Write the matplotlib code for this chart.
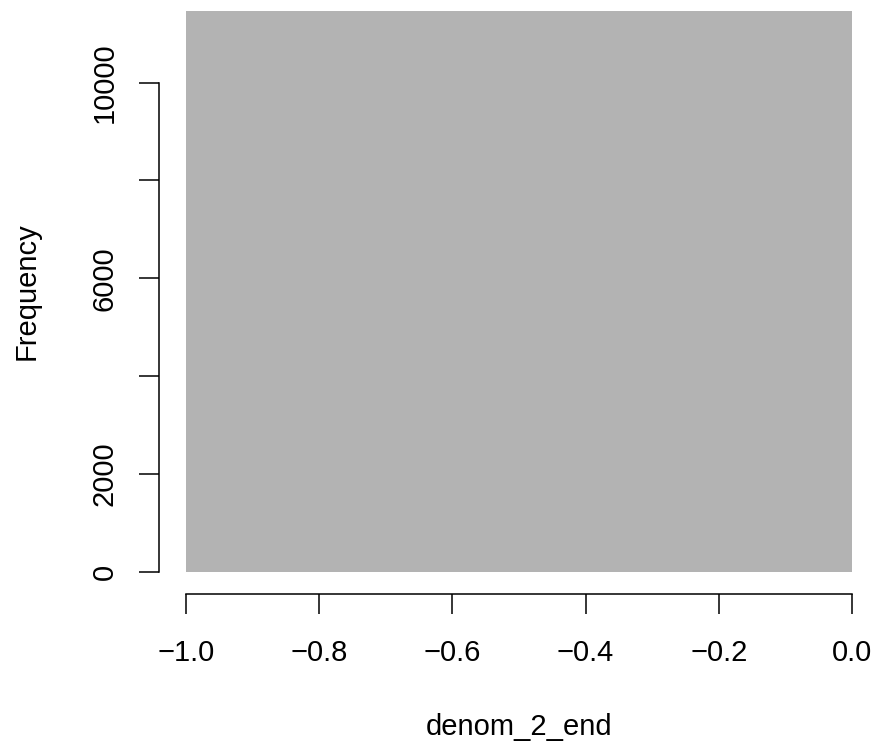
import matplotlib
matplotlib.use("Agg")
import matplotlib.pyplot as plt

# Histogram of denom_2_end: a single bin from -1 to 0
bin_edges = [-1.0, 0.0]
counts = [11470]

x_ticks = [-1.0, -0.8, -0.6, -0.4, -0.2, 0.0]
x_tick_labels = ["\u22121.0", "\u22120.8", "\u22120.6", "\u22120.4", "\u22120.2", "0.0"]
y_ticks = [0, 2000, 4000, 6000, 8000, 10000]
y_tick_labels = ["0", "2000", "", "6000", "", "10000"]

plt.rcParams["font.family"] = ["Liberation Sans", "DejaVu Sans"]
fs = 21

fig = plt.figure(figsize=(8.79, 7.47), dpi=100)
ax = fig.add_axes([0.1813, 0.2047, 0.8183, 0.811])

ax.stairs(counts, bin_edges, fill=True, color="#B3B3B3", linewidth=0)

# R-style axis ranges: 4% padding on each side
top = max(counts)
ax.set_xlim(-1.04, 0.04)
ax.set_ylim(-0.04 * top, 1.04 * top)

for side in ["top", "right"]:
    ax.spines[side].set_visible(False)
ax.spines["left"].set_bounds(0, 10000)
ax.spines["bottom"].set_bounds(-1.0, 0.0)
for side in ["left", "bottom"]:
    ax.spines[side].set_linewidth(1.1)

ax.set_xticks(x_ticks)
ax.set_xticklabels(x_tick_labels, fontsize=fs)
ax.set_yticks(y_ticks)
ax.set_yticklabels(y_tick_labels, fontsize=fs, rotation=90, va="center")
ax.tick_params(axis="both", length=14.4, width=1.1, direction="out")
ax.tick_params(axis="x", pad=18)
ax.tick_params(axis="y", pad=15)

fig.text(519 / 879, 1 - 727 / 747, "denom_2_end", fontsize=fs, ha="center", va="center")
fig.text(27 / 879, 1 - 291 / 747, "Frequency", fontsize=fs, ha="center", va="center",
         rotation=90)

fig.savefig("out.png", dpi=100)
